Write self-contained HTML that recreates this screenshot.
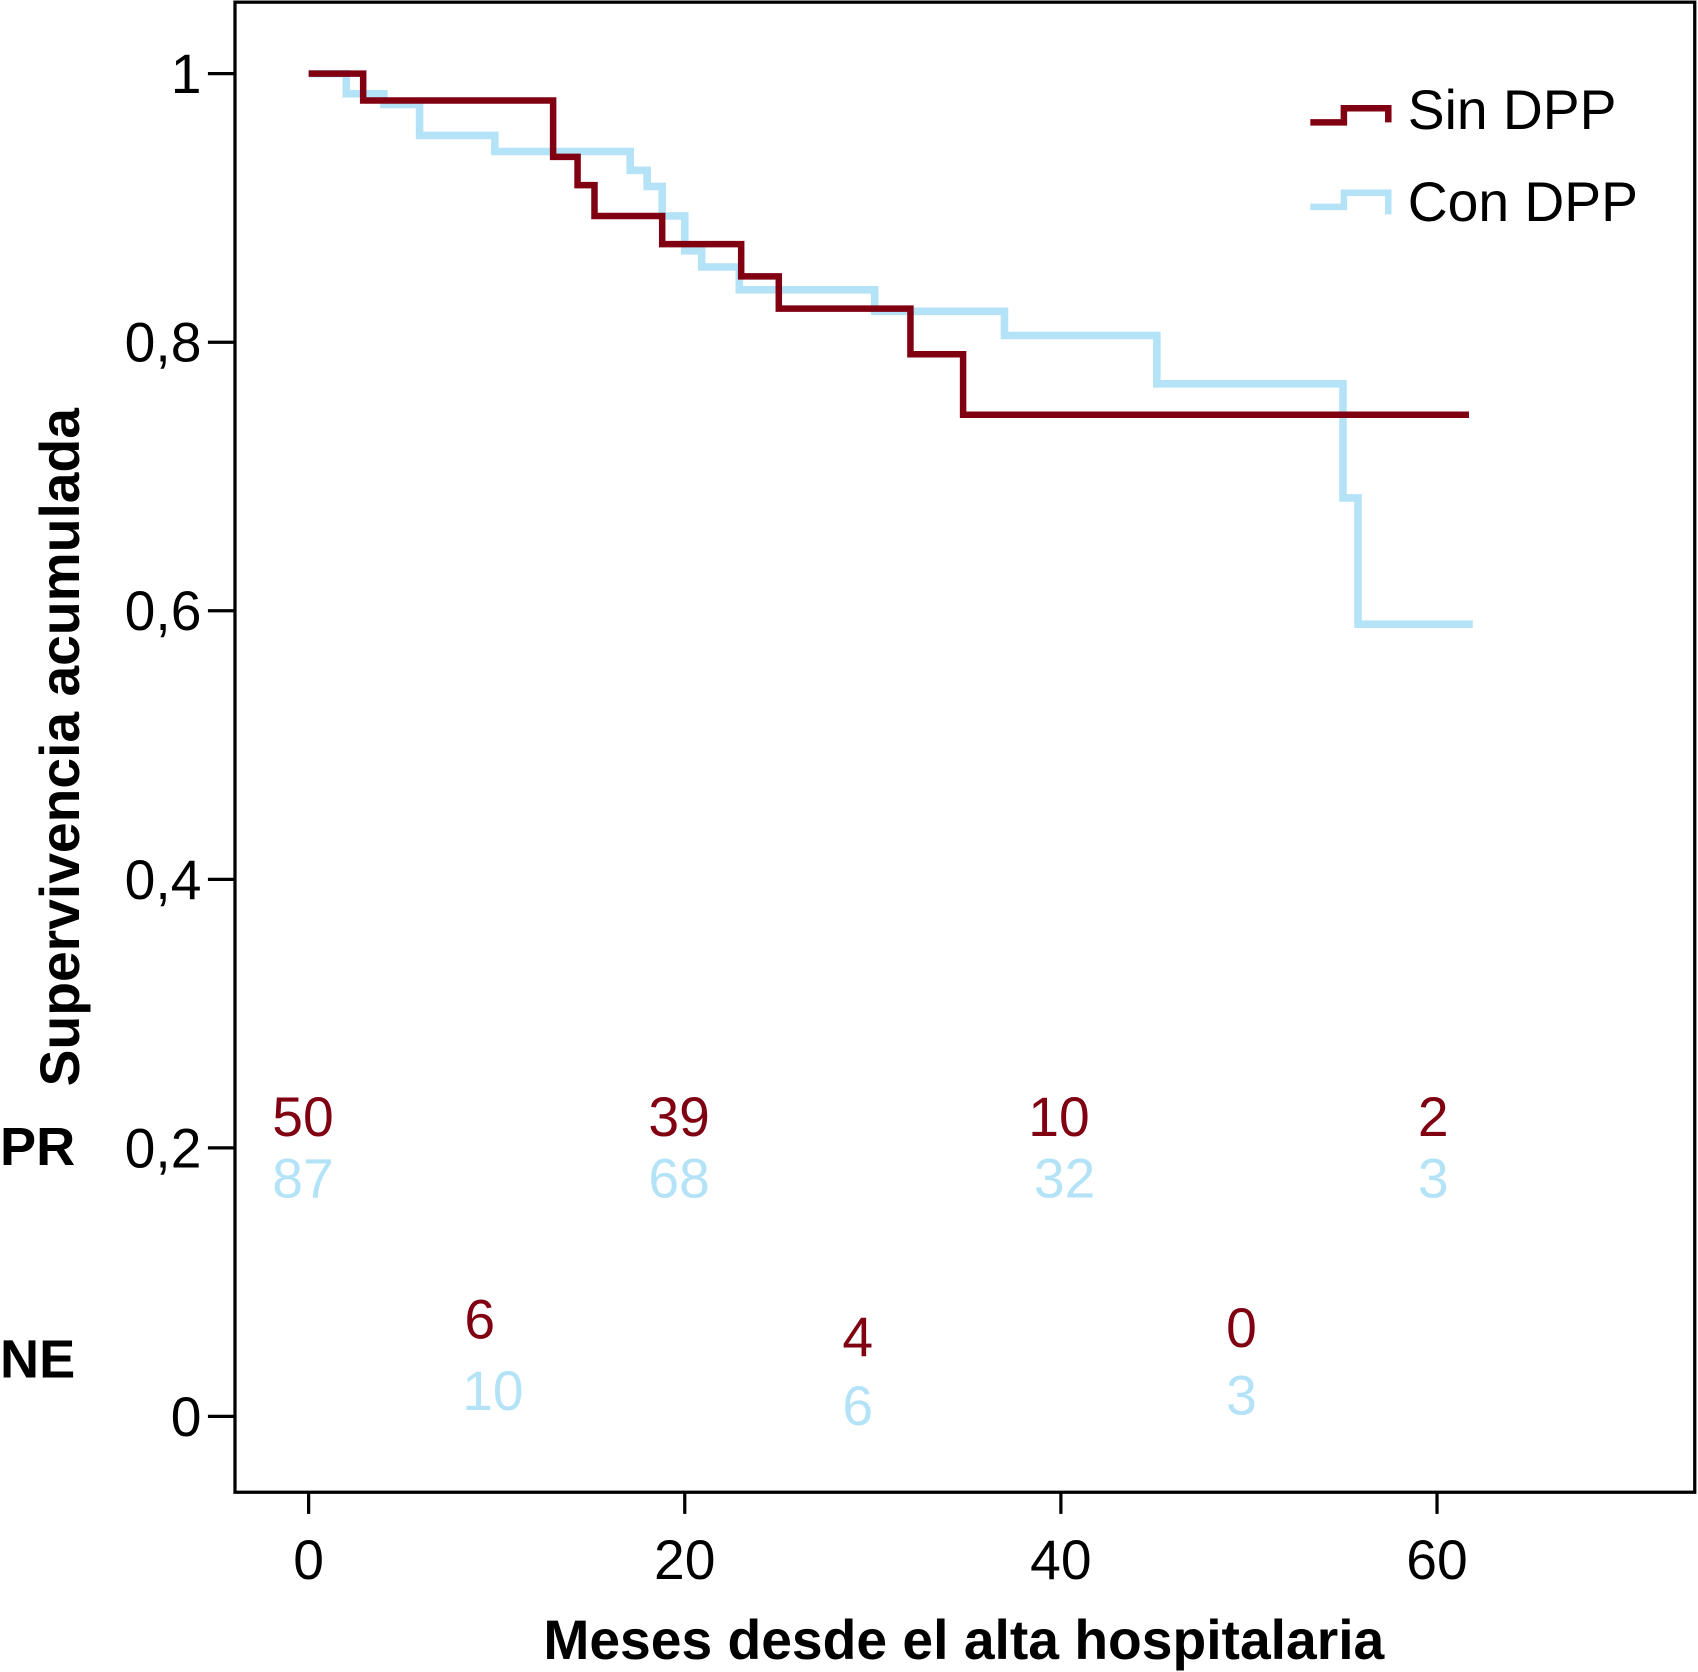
<!DOCTYPE html>
<html><head><meta charset="utf-8"><style>
html,body{margin:0;padding:0;background:#fff;}
svg{display:block;font-family:"Liberation Sans",Arial,sans-serif;}
</style></head><body>
<svg id="chart" width="1698" height="1672" viewBox="0 0 1568 1544">
<rect x="217" y="2" width="1348" height="1376" fill="none" stroke="#000" stroke-width="3"/>
<g id="axes"></g>
<g id="curves"></g>
<g id="risk"></g>
<text x="890" y="1532" text-anchor="middle" font-size="51" font-weight="bold">Meses desde el alta hospitalaria</text>
<text transform="translate(73,690) rotate(-90)" text-anchor="middle" font-size="51" font-weight="bold">Supervivencia acumulada</text>
<text x="0" y="1076" font-size="50" font-weight="bold">PR</text>
<text x="0" y="1272" font-size="50" font-weight="bold">NE</text>
<g>
<path d="M1210 113 H1241 V100 H1282 V113" fill="none" stroke="#800012" stroke-width="6"/>
<text x="1300" y="119" font-size="51">Sin DPP</text>
<path d="M1210 191 H1241 V178 H1282 V198" fill="none" stroke="#b4e3f8" stroke-width="6"/>
<text x="1300" y="204" font-size="51">Con DPP</text>
</g>
</svg>
<script>
const xTicks = [0, 20, 40, 60];
const yTicks = [0, 0.2, 0.4, 0.6, 0.8, 1];
const yTickLabels = ["0", "0,2", "0,4", "0,6", "0,8", "1"];
const sinTimes = [0, 2.9, 13.0, 14.3, 15.2, 18.8, 23.0, 25.0, 32.0, 34.8, 61.7];
const sinSurv  = [1.0, 0.980, 0.938, 0.917, 0.894, 0.873, 0.849, 0.825, 0.791, 0.746, 0.746];
const conTimes = [0, 2.0, 4.0, 5.9, 9.9, 17.1, 18.0, 18.8, 20.0, 20.9, 22.9, 30.1, 37.0, 45.1, 55.0, 55.8, 61.9];
const conSurv  = [1.0, 0.985, 0.977, 0.954, 0.942, 0.928, 0.916, 0.894, 0.868, 0.856, 0.839, 0.823, 0.805, 0.769, 0.684, 0.590, 0.590];
const riskPRSin = [50, 39, 10, 2];
const riskPRCon = [87, 68, 32, 3];
const riskPRTimes = [-0.3, 19.7, 39.9, 59.8];
const riskNESin = [6, 4, 0];
const riskNECon = [10, 6, 3];
const riskNETimes = [9.1, 29.2, 49.6];

const NS = "http://www.w3.org/2000/svg";
const sx = v => 285 + v * (1327 - 285) / 60;
const sy = v => 1308 - v * (1308 - 68);

function mk(tag, attrs, parent) {
  const e = document.createElementNS(NS, tag);
  for (const k in attrs) e.setAttribute(k, attrs[k]);
  parent.appendChild(e);
  return e;
}
const axes = document.getElementById('axes');
xTicks.forEach((t) => {
  const l = mk('line', {x1: sx(t), x2: sx(t), y1: 1378, y2: 1398, stroke: '#000', 'stroke-width': 3}, axes);
  
  
  const tx = mk('text', {x: sx(t), y: 1458, 'text-anchor': 'middle', 'font-size': 51}, axes);
  tx.textContent = t;
  
  
});
yTicks.forEach((t, i) => {
  const l = mk('line', {x1: 192, x2: 217, y1: sy(t), y2: sy(t), stroke: '#000', 'stroke-width': 3}, axes);
  
  
  const tx = mk('text', {x: 186, y: sy(t) + 18, 'text-anchor': 'end', 'font-size': 51}, axes);
  tx.textContent = yTickLabels[i];
  
  
});
function stepPath(ts, ss) {
  let d = 'M' + sx(ts[0]) + ' ' + sy(ss[0]);
  for (let i = 1; i < ts.length; i++) {
    d += ' H' + sx(ts[i]) + ' V' + sy(ss[i]);
  }
  return d;
}
const curves = document.getElementById('curves');
const pc = mk('path', {d: stepPath(conTimes, conSurv), fill: 'none', stroke: '#b4e3f8', 'stroke-width': 7}, curves);


const ps = mk('path', {d: stepPath(sinTimes, sinSurv), fill: 'none', stroke: '#800012', 'stroke-width': 6}, curves);



const risk = document.getElementById('risk');
function rtext(val, t, y, col, name) {
  const e = mk('text', {x: sx(t), y: y, 'text-anchor': 'middle', 'font-size': 51, fill: col}, risk);
  e.textContent = val;
  
  
}
riskPRSin.forEach((v, i) => rtext(v, riskPRTimes[i], 1049, '#800012', 'pr-sin-count'));
riskPRCon.forEach((v, i) => rtext(v, riskPRTimes[i] + (i === 2 ? 0.3 : 0), 1106, '#b4e3f8', 'pr-con-count'));
riskNESin.forEach((v, i) => rtext(v, riskNETimes[i], [1236, 1252, 1244][i], '#800012', 'ne-sin-count'));
riskNECon.forEach((v, i) => rtext(v, riskNETimes[i] + (i === 0 ? 0.7 : 0), [1302, 1316, 1306][i], '#b4e3f8', 'ne-con-count'));
</script>
</body></html>
